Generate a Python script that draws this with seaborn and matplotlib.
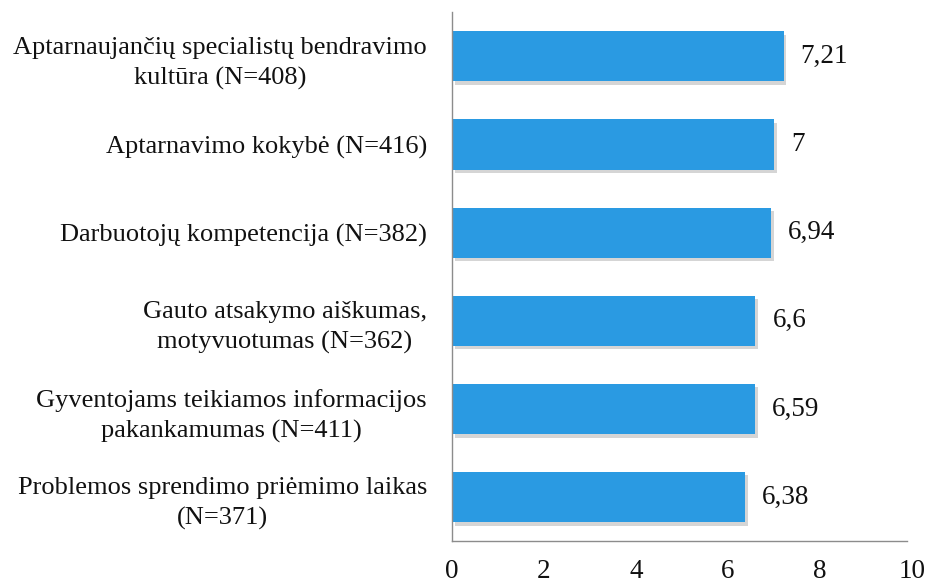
import numpy as np
import pandas as pd
import matplotlib.pyplot as plt
import matplotlib.patheffects as pe
import seaborn as sns

# Duomenys
kategorijos = [
    'Aptarnaujančių specialistų bendravimo\nkultūra (N=408)',
    'Aptarnavimo kokybė (N=416)',
    'Darbuotojų kompetencija (N=382)',
    'Gauto atsakymo aiškumas,\nmotyvuotumas (N=362)',
    'Gyventojams teikiamos informacijos\npakankamumas (N=411)',
    'Problemos sprendimo priėmimo laikas\n(N=371)',
]
reiksmes = [7.21, 7.0, 6.94, 6.6, 6.59, 6.38]
x_ticks = [0, 2, 4, 6, 8, 10]

df = pd.DataFrame({'Kategorija': kategorijos, 'Vertinimas': reiksmes})

sns.set_style('white')
plt.rcParams['font.family'] = ['Liberation Serif', 'DejaVu Serif']

fig = plt.figure(figsize=(9.27, 5.85), dpi=100)
ax = fig.add_axes([0.4876, 0.075, 0.496, 0.904])

sns.barplot(data=df, x='Vertinimas', y='Kategorija', orient='h',
            color='#2A9AE2', saturation=1, width=0.57, ax=ax)

for bar in ax.patches:
    bar.set_edgecolor('none')
    bar.set_path_effects([pe.SimplePatchShadow(offset=(2, -2.5), shadow_rgbFace='#888888', alpha=0.35),
                          pe.Normal()])

for bar, v in zip(ax.patches, reiksmes):
    txt = f'{v:g}'.replace('.', ',')
    ax.text(bar.get_width() + 0.37, bar.get_y() + bar.get_height() / 2, txt,
            va='center', ha='left', fontsize=19.5, color='#111111')

ax.set_xlim(0, 10)
ax.set_xticks(x_ticks)
ax.set_xlabel('')
ax.set_ylabel('')
ax.tick_params(axis='x', length=0, pad=13, labelsize=19.5, colors='#111111')
ax.tick_params(axis='y', length=0, pad=18, labelsize=19, colors='#111111')
for lbl in ax.get_yticklabels():
    lbl.set_multialignment('center')
    lbl.set_linespacing(1.45)

for s in ['top', 'right']:
    ax.spines[s].set_visible(False)
for s in ['left', 'bottom']:
    ax.spines[s].set_color('#8c8c8c')
    ax.spines[s].set_linewidth(1)
ax.spines['bottom'].set_bounds(0, 9.9)

fig.savefig('out.png', dpi=100)
